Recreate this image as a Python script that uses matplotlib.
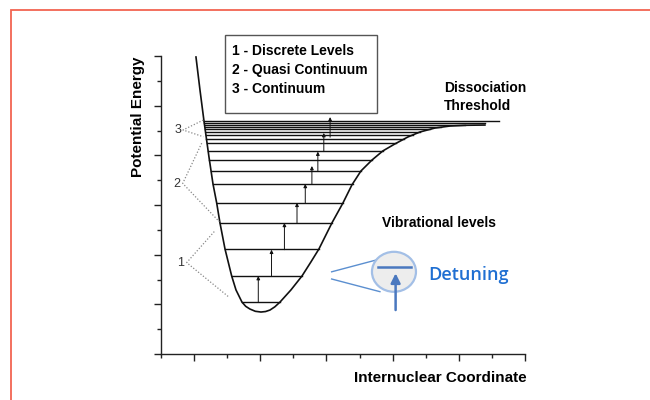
import numpy as np
import matplotlib
matplotlib.use('Agg')
import matplotlib.pyplot as plt
from matplotlib.patches import Rectangle, Ellipse

plt.rcParams['font.family'] = ['Liberation Sans', 'DejaVu Sans']

# potential curve (x: internuclear coordinate, y: energy)
left_x = [1.057, 1.178, 1.299, 1.450, 1.571, 1.683, 1.782, 1.934, 2.136, 2.266, 2.447, 2.560, 2.689, 2.850, 3.021]
left_y = [11.96, 10.63, 9.38, 7.93, 6.85, 6.08, 5.28, 4.23, 3.14, 2.58, 2.09, 1.92, 1.81, 1.72, 1.69]
right_x = [3.021, 3.160, 3.293, 3.440, 3.595, 3.927, 4.260, 4.532, 4.773, 5.166, 5.498, 5.770, 6.042,
           6.375, 6.707, 7.069, 7.462, 7.825, 8.278, 8.731, 9.184, 9.789]
right_y = [1.69, 1.71, 1.77, 1.90, 2.09, 2.58, 3.14, 3.71, 4.23, 5.28, 6.08, 6.81, 7.37,
           7.81, 8.18, 8.46, 8.74, 8.94, 9.10, 9.18, 9.21, 9.22]

# vibrational levels
levels = [9.38, 9.29, 9.21, 9.13, 9.05, 8.94, 8.83, 8.66, 8.49, 8.18, 7.81, 7.37, 6.85, 6.09, 5.29, 4.22, 3.15, 2.09]
top_line_end = 10.21

# excitation arrows: x, from, to
arrow_x = [2.94, 3.34, 3.73, 4.11, 4.36, 4.56, 4.74, 4.92, 5.11]
arrow_from = [2.10, 3.14, 4.20, 5.28, 6.09, 6.85, 7.37, 8.15, 8.73]
arrow_to = [3.14, 4.20, 5.28, 6.09, 6.85, 7.57, 8.15, 8.90, 9.54]

legend_lines = ['1 - Discrete Levels', '2 - Quasi Continuum', '3 - Continuum']

fig = plt.figure(figsize=(6.5, 4), dpi=100)
ax = fig.add_axes([161/650, 1-354/400, 364/650, 298/400])
ax.set_xlim(0, 11)
ax.set_ylim(0, 12)

for s in ['top', 'right']:
    ax.spines[s].set_visible(False)
for s in ['left', 'bottom']:
    ax.spines[s].set_color('#222222')
    ax.spines[s].set_linewidth(1.0)

ax.set_xticks([1, 3, 5, 7, 9, 11])
ax.set_xticks([0, 2, 4, 6, 8, 10], minor=True)
ax.set_yticks([0, 2, 4, 6, 8, 10, 12])
ax.set_yticks([1, 3, 5, 7, 9, 11], minor=True)
ax.tick_params(which='major', length=5, width=1, color='#222222', labelbottom=False, labelleft=False)
ax.tick_params(which='minor', length=3, width=1, color='#222222')

# curve
ax.plot(left_x + right_x[1:], left_y + right_y[1:], color='#111111', lw=1.2, clip_on=False)

# levels
lx_sorted = left_x[::-1]
ly_sorted = left_y[::-1]
for e in levels:
    x0 = np.interp(e, ly_sorted, lx_sorted)
    if e > max(right_y) + 0.1:
        x1 = top_line_end
    else:
        x1 = np.interp(e, right_y, right_x)
    ax.plot([x0, x1], [e, e], color='#111111', lw=1.0)

for x, y0, y1 in zip(arrow_x, arrow_from, arrow_to):
    ax.annotate('', xy=(x, y1), xytext=(x, y0),
                arrowprops=dict(arrowstyle='-|>', lw=0.7, color='#111111',
                                mutation_scale=5, shrinkA=0, shrinkB=0))

# group labels with dotted brackets
groups = [('1', 0.604, 3.67, (0.776, 3.68), (1.610, 4.93), (2.063, 2.28)),
          ('2', 0.483, 6.85, (0.656, 6.87), (1.230, 8.49), (1.761, 5.33)),
          ('3', 0.514, 9.02, (0.665, 9.02), (1.278, 9.42), (1.278, 8.75))]
for lab, tx, ty, p0, pu, pd in groups:
    ax.text(tx, ty, lab, fontsize=9, color='#333333', ha='center', va='center')
    ax.plot([pu[0], p0[0], pd[0]], [pu[1], p0[1], pd[1]], ls=(0, (1, 1.5)), color='#888888', lw=0.9, clip_on=False)

# legend box
ax.add_patch(Rectangle((1.93, 9.71), 4.60, 3.14, fill=False, edgecolor='#555555', lw=1.0, clip_on=False))
for i, t in enumerate(legend_lines):
    ax.text(2.15, 12.20 - i * 0.765, t, fontsize=10, fontweight='bold', ha='left', va='center', clip_on=False)

ax.text(8.55, 10.71, 'Dissociation', fontsize=10, fontweight='bold', ha='left', va='center')
ax.text(8.55, 9.99, 'Threshold', fontsize=10, fontweight='bold', ha='left', va='center')
ax.text(6.68, 5.28, 'Vibrational levels', fontsize=10, fontweight='bold', ha='left', va='center')
ax.text(11.06, -0.97, 'Internuclear Coordinate', fontsize=11, fontweight='bold', ha='right', va='center', clip_on=False)
ax.text(-0.69, 9.54, 'Potential Energy', fontsize=11, fontweight='bold', rotation=90, ha='center', va='center', clip_on=False)

# detuning inset
blue = '#4a78bf'
ax.plot([5.157, 6.517], [3.31, 3.79], color='#5b8fd0', lw=1.0)
ax.plot([5.157, 6.616], [3.02, 2.51], color='#5b8fd0', lw=1.0)
ax.add_patch(Ellipse((7.04, 3.31), 1.33, 1.61, facecolor='#ededed', edgecolor='#a3bfe6', lw=1.6, zorder=3))
ax.plot([6.56, 7.54], [3.49, 3.49], color=blue, lw=1.8, zorder=4)
ax.annotate('', xy=(7.09, 3.25), xytext=(7.09, 1.77),
            arrowprops=dict(arrowstyle='-|>', lw=1.8, color=blue, mutation_scale=14, shrinkA=0, shrinkB=0),
            zorder=4)
ax.text(8.07, 3.20, 'Detuning', fontsize=13, color='#1f6fd2', fontweight='semibold',
        family=['Open Sans', 'DejaVu Sans'], ha='left', va='center')

# red frame
fig.add_artist(Rectangle((11/650, -0.1), 1.2, 0.975 + 0.1, transform=fig.transFigure,
                         fill=False, edgecolor='#f26552', lw=1.3))

fig.savefig('out.png', dpi=100)
